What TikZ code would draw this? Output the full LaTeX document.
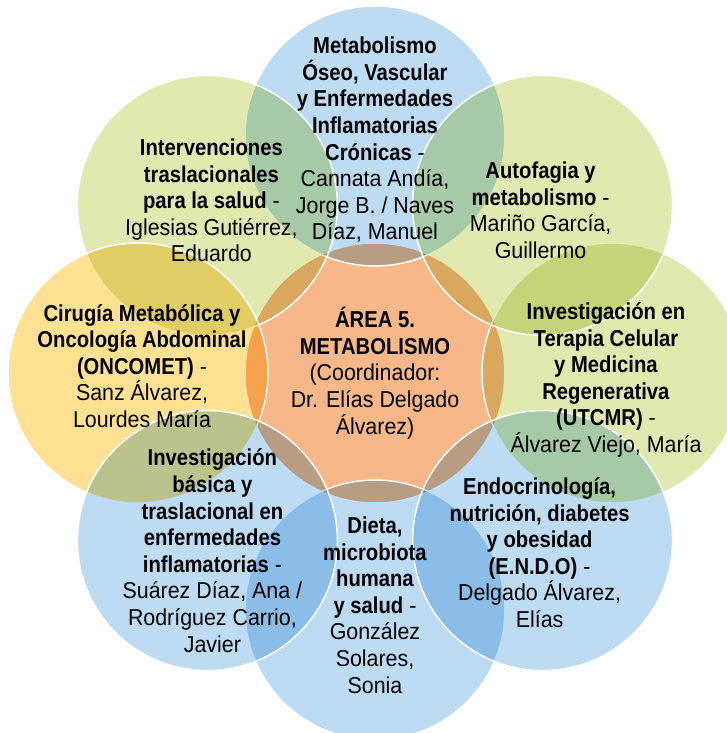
\documentclass[tikz,border=0pt]{standalone}
\usepackage{fontspec}
\setmainfont{Liberation Sans}[FakeStretch=0.93,BoldFeatures={FakeStretch=0.88}]

\definecolor{areablue}{RGB}{189,220,244}
\definecolor{areagreen}{RGB}{225,233,176}
\definecolor{areayellow}{RGB}{254,225,146}
\definecolor{areaorange}{RGB}{247,183,137}

\begin{document}
\begin{tikzpicture}
          [font=\fontsize{23}{26.6}\selectfont,
          area/.style={shape=circle,minimum size=260pt,inner sep=0pt,fill=#1,blend mode=multiply},
          rim/.style={draw=white,line width=1.5pt},
          group/.style={align=center,inner sep=0pt,text=black}]

          \path [use as bounding box,fill=white] (-375pt,-360pt) rectangle (351pt,373pt);

          % circles, centre first
            \node (area) [area=areaorange] at (0,0) {};
            \draw [rim] (area.center) circle (130pt);
            \node (top) [area=areablue] at (90:237pt) {};
            \draw [rim] (top.center) circle (130pt);
            \node (right) [area=areagreen] at (0:237pt) {};
            \draw [rim] (right.center) circle (130pt);
            \node (topright) [area=areagreen] at (45:237pt) {};
            \draw [rim] (topright.center) circle (130pt);
            \node (bottom) [area=areablue] at (270:237pt) {};
            \draw [rim] (bottom.center) circle (130pt);
            \node (botright) [area=areablue] at (315:237pt) {};
            \draw [rim] (botright.center) circle (130pt);
            \node (topleft) [area=areagreen] at (135:237pt) {};
            \draw [rim] (topleft.center) circle (130pt);
            \node (left) [area=areayellow] at (180:237pt) {};
            \draw [rim] (left.center) circle (130pt);
            \node (botleft) [area=areablue] at (225:237pt) {};
            \draw [rim] (botleft.center) circle (130pt);

          % groups
            \node (areatext) [group] at (area) {\textbf{ÁREA 5.}\\ \textbf{METABOLISMO}\\ (Coordinador:\\ Dr. Elías Delgado\\ Álvarez)};
            \node (toptext) [group,yshift=-4pt] at (top) {\textbf{Metabolismo}\\ \textbf{Óseo, Vascular}\\ \textbf{y Enfermedades}\\ \textbf{Inflamatorias}\\ \textbf{Crónicas} -\\ Cannata Andía,\\ Jorge B. / Naves\\ Díaz, Manuel};
            \node (topleftext) [group,xshift=4pt,yshift=5pt] at (topleft) {\textbf{Intervenciones}\\ \textbf{traslacionales}\\ \textbf{para la salud} -\\ Iglesias Gutiérrez,\\ Eduardo};
            \node (toprighttext) [group,xshift=-2pt,yshift=-5pt] at (topright) {\textbf{Autofagia y}\\ \textbf{metabolismo} -\\ Mariño García,\\ Guillermo};
            \node (righttext) [group,xshift=-6pt,yshift=-7pt] at (right) {\textbf{Investigación en}\\ \textbf{Terapia Celular}\\ \textbf{y Medicina}\\ \textbf{Regenerativa}\\ \textbf{(UTCMR)} -\\ Álvarez Viejo, María};
            \node (botrighttext) [group,xshift=-3pt,yshift=-12pt] at (botright) {\textbf{Endocrinología,}\\ \textbf{nutrición, diabetes}\\ \textbf{y obesidad}\\ \textbf{(E.N.D.O)} -\\ Delgado Álvarez,\\ Elías};
            \node (bottomtext) [group,yshift=5pt] at (bottom) {\textbf{Dieta,}\\ \textbf{microbiota}\\ \textbf{humana}\\ \textbf{y salud} -\\ González\\ Solares,\\ Sonia};
            \node (botlefttext) [group,xshift=5pt,yshift=-10pt] at (botleft) {\textbf{Investigación}\\ \textbf{básica y}\\ \textbf{traslacional en}\\ \textbf{enfermedades}\\ \textbf{inflamatorias} -\\ Suárez Díaz, Ana /\\ Rodríguez Carrio,\\ Javier};
            \node (lefttext) [group,xshift=4pt,yshift=7pt] at (left) {\textbf{Cirugía Metabólica y}\\ \textbf{Oncología Abdominal}\\ \textbf{(ONCOMET)} -\\ Sanz Álvarez,\\ Lourdes María};

        \end{tikzpicture}
\end{document}
